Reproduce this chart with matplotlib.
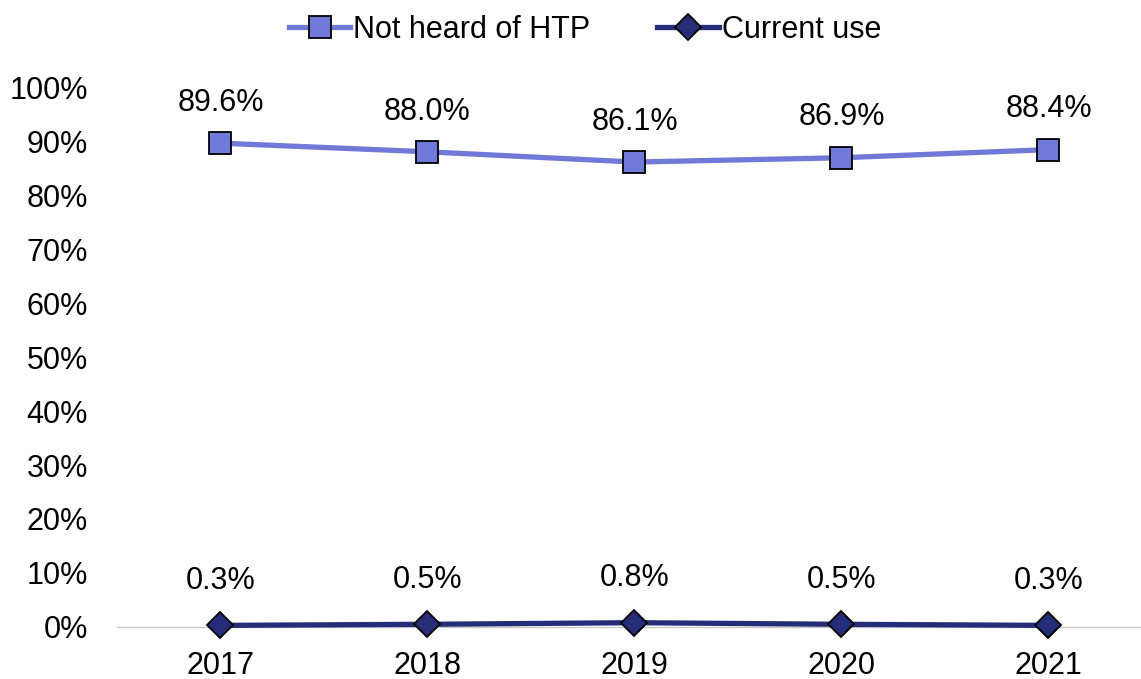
import matplotlib.pyplot as plt
from matplotlib.ticker import FuncFormatter

plt.rcParams['font.family'] = ['Liberation Sans', 'DejaVu Sans']

years = ['2017', '2018', '2019', '2020', '2021']
not_heard = [89.6, 88.0, 86.1, 86.9, 88.4]
current_use = [0.3, 0.5, 0.8, 0.5, 0.3]

light = '#7078d8'
dark = '#262d78'

fig = plt.figure(figsize=(11.41, 6.79), dpi=100)
ax = fig.add_axes([117 / 1141, 1 - 627 / 679, 1 - 117 / 1141, 540 / 679])

x = range(len(years))
ax.plot(x, not_heard, color=light, lw=3.8, marker='s', ms=15.5,
        mfc=light, mec='black', mew=1.3, label='Not heard of HTP', clip_on=False, zorder=3)
ax.plot(x, current_use, color=dark, lw=3.8, marker='D', ms=13.5,
        mfc=dark, mec='black', mew=1.3, label='Current use', clip_on=False, zorder=3)

for xi, v in zip(x, not_heard):
    ax.annotate(f'{v:.1f}%', (xi, v), xytext=(0, 29), textcoords='offset points',
                ha='center', va='center', fontsize=22)
for xi, v in zip(x, current_use):
    ax.annotate(f'{v:.1f}%', (xi, v), xytext=(0, 32), textcoords='offset points',
                ha='center', va='center', fontsize=22)

ax.set_xlim(-0.5, 4.447)
ax.set_ylim(0, 100)
ax.set_yticks(range(0, 101, 10))
ax.yaxis.set_major_formatter(FuncFormatter(lambda v, p: f'{v:.0f}%'))
ax.set_xticks(list(x))
ax.set_xticklabels(years)
ax.tick_params(length=0, labelsize=22)
ax.tick_params(axis='y', pad=21)
ax.tick_params(axis='x', pad=17)

for side in ['top', 'right', 'left']:
    ax.spines[side].set_visible(False)
ax.spines['bottom'].set_color('#c8c8c8')
ax.spines['bottom'].set_linewidth(1)

fig.legend(loc='center', bbox_to_anchor=(585 / 1141, 1 - 30 / 679), ncol=2,
           frameon=False, fontsize=22, handlelength=2.0, handletextpad=0.1,
           columnspacing=2.2)

fig.savefig('out.png', dpi=100)
